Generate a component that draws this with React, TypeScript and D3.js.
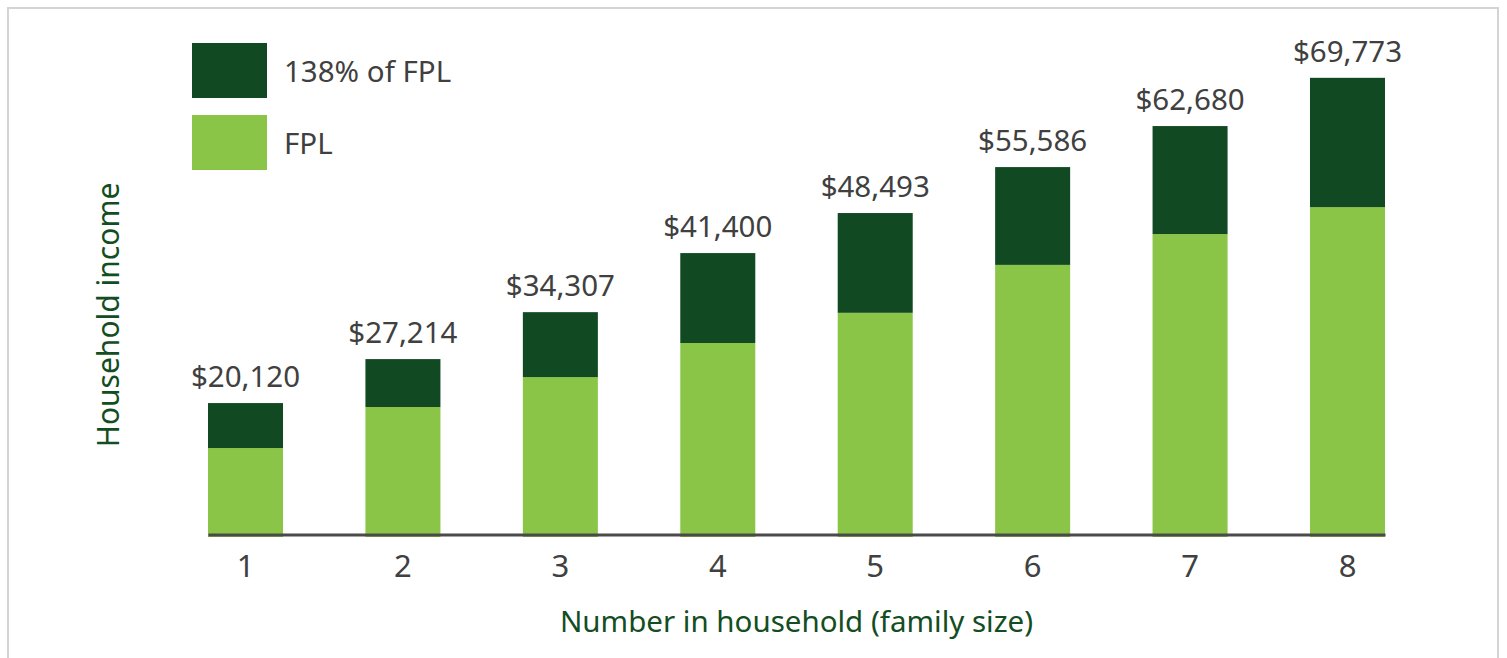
import { useEffect, useRef } from "react";
import * as d3 from "d3";

// household size categories
const householdSizes = ["1", "2", "3", "4", "5", "6", "7", "8"];
// FPL segment heights
const fplValues = [13400, 19650, 24200, 29400, 34000, 41300, 46000, 50100];
// 138% of FPL bar tops
const fpl138Values = [20250, 26950, 34100, 43100, 49200, 56200, 62450, 69800];
// value labels printed above the bars
const totalLabels = [
  "$20,120",
  "$27,214",
  "$34,307",
  "$41,400",
  "$48,493",
  "$55,586",
  "$62,680",
  "$69,773",
];
const legendItems = ["138% of FPL", "FPL"];

const DARK = "#114a22";
const LIGHT = "#8bc547";
const TEXT = "#404040";
const FONT = "'Noto Sans', sans-serif";

const W = 1507;
const H = 658;

const App = () => {
  const svgRef = useRef<SVGSVGElement | null>(null);

  useEffect(() => {
    d3.select(svgRef.current).selectAll("*").remove();

    const svg = d3
      .select(svgRef.current)
      .attr("width", W)
      .attr("height", H)
      .style("background", "#fff");

    // outer frame
    svg
      .append("rect")
      .attr("x", 8)
      .attr("y", 8)
      .attr("width", 1490)
      .attr("height", 680)
      .attr("fill", "none")
      .attr("stroke", "#d4d4d4")
      .attr("stroke-width", 2);

    const xScale = d3
      .scaleBand()
      .domain(householdSizes)
      .range([208, 1385])
      .paddingInner(0.5235)
      .paddingOuter(0);

    const yScale = d3.scaleLinear().domain([0, 70000]).range([536, 76.5]);

    const data = householdSizes.map((k, i) => ({
      key: k,
      fpl: fplValues[i],
      top: fpl138Values[i],
      label: totalLabels[i],
    }));

    // FPL segment
    svg
      .selectAll(".bar-fpl")
      .data(data)
      .enter()
      .append("rect")
      .attr("class", "bar-fpl")
      .attr("x", (d) => xScale(d.key)!)
      .attr("y", (d) => yScale(d.fpl))
      .attr("width", xScale.bandwidth())
      .attr("height", (d) => yScale(0) - yScale(d.fpl) + 1)
      .attr("fill", LIGHT);

    // 138% segment
    svg
      .selectAll(".bar-138")
      .data(data)
      .enter()
      .append("rect")
      .attr("class", "bar-138")
      .attr("x", (d) => xScale(d.key)!)
      .attr("y", (d) => yScale(d.top))
      .attr("width", xScale.bandwidth())
      .attr("height", (d) => yScale(d.fpl) - yScale(d.top))
      .attr("fill", DARK);

    // labels above bars
    svg
      .selectAll(".bar-label")
      .data(data)
      .enter()
      .append("text")
      .attr("class", "bar-label")
      .attr("x", (d) => xScale(d.key)! + xScale.bandwidth() / 2)
      .attr("y", (d) => yScale(d.top) - 16)
      .attr("text-anchor", "middle")
      .attr("font-family", FONT)
      .attr("font-size", 29.5)
      .attr("fill", TEXT)
      .text((d) => d.label);

    // x axis
    const xAxis = d3.axisBottom(xScale).tickSize(0).tickPadding(20);
    const gx = svg
      .append("g")
      .attr("transform", `translate(0, 534.5)`)
      .call(xAxis);
    gx.select(".domain").attr("stroke", "#4a4a4a").attr("stroke-width", 3);
    gx.selectAll("text")
      .attr("font-family", FONT)
      .attr("font-size", 31)
      .attr("fill", TEXT);

    // axis titles
    svg
      .append("text")
      .attr("x", (208 + 1385) / 2)
      .attr("y", 632)
      .attr("text-anchor", "middle")
      .attr("font-family", FONT)
      .attr("font-size", 29.5)
      .attr("fill", "#134d22")
      .text("Number in household (family size)");

    svg
      .append("text")
      .attr("transform", "translate(119, 315) rotate(-90)")
      .attr("text-anchor", "middle")
      .attr("font-family", FONT)
      .attr("font-size", 30)
      .attr("fill", "#134d22")
      .text("Household income");

    // legend
    const legend = svg
      .selectAll(".legend")
      .data(legendItems)
      .enter()
      .append("g")
      .attr("class", "legend")
      .attr("transform", (d, i) => `translate(192, ${43 + i * 72})`);

    legend
      .append("rect")
      .attr("width", 75)
      .attr("height", 55)
      .attr("fill", (d, i) => (i === 0 ? DARK : LIGHT));

    legend
      .append("text")
      .attr("x", 92)
      .attr("y", 39)
      .attr("font-family", FONT)
      .attr("font-size", 29.5)
      .attr("fill", TEXT)
      .text((d) => d);
  }, []);

  return (
    <div style={{ position: "absolute", left: 0, top: 0 }}>
      <svg ref={svgRef} style={{ display: "block" }}></svg>
    </div>
  );
};

export default App;
